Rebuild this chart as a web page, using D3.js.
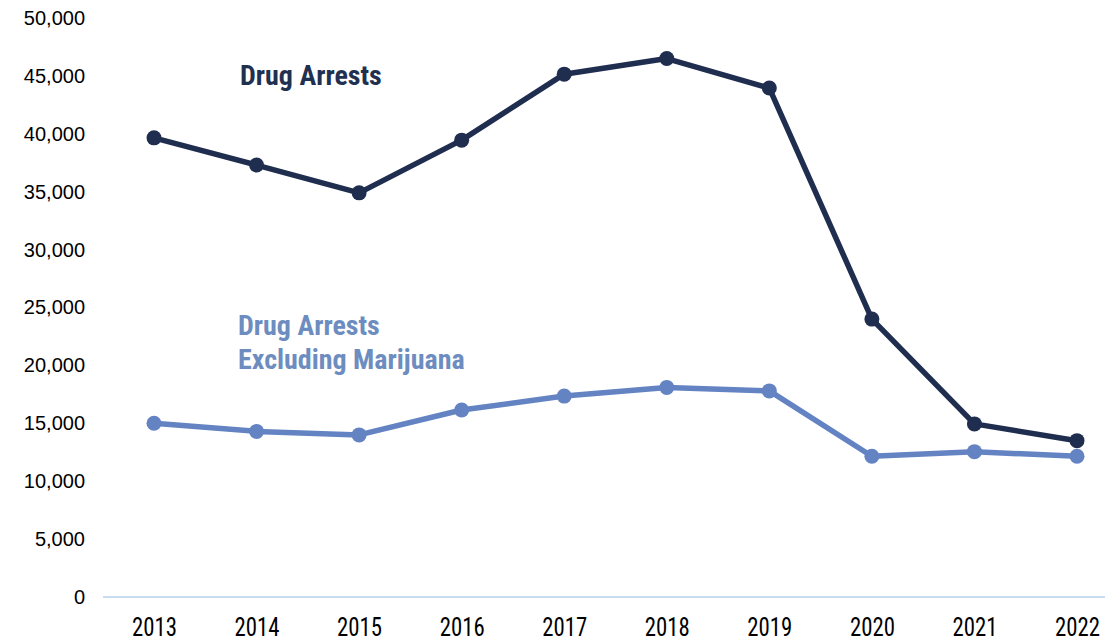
<!DOCTYPE html>
<html>
<head>
<meta charset="utf-8">
<script src="https://cdn.jsdelivr.net/npm/d3@7"></script>
<style>
  body { margin: 0; background: #fff; }
  svg { display: block; }
</style>
</head>
<body>
<div id="chart"></div>
<script>
const w = 1105;
const h = 642;

const years = ["2013", "2014", "2015", "2016", "2017", "2018", "2019", "2020", "2021", "2022"];
const drugArrests = [39650, 37300, 34900, 39450, 45150, 46500, 43950, 24000, 14950, 13500];
const excludingMarijuana = [15000, 14300, 14000, 16150, 17350, 18100, 17800, 12150, 12550, 12150];
const yTicks = [0, 5000, 10000, 15000, 20000, 25000, 30000, 35000, 40000, 45000, 50000];

const darkColor = "#1f2d4f";
const lightColor = "#6383c3";
const condensed = "'Roboto Condensed', 'Liberation Sans Narrow', 'Arial Narrow', sans-serif";

const svg = d3.select("#chart").append("svg").attr("width", w).attr("height", h);

const x = d3.scalePoint().domain(years).range([154, 1077]);
const y = d3.scaleLinear().domain([0, 50000]).range([597, 18]);

// y axis labels, no line
const yAxis = d3.axisLeft(y).tickValues(yTicks).tickSize(0).tickPadding(0)
    .tickFormat(d3.format(","));
const gy = svg.append("g").attr("transform", "translate(85,0)").call(yAxis);
gy.select(".domain").remove();
gy.selectAll("text")
    .style("font-family", "'Liberation Sans', Arial, sans-serif")
    .style("font-size", "20px")
    .attr("fill", "#000");

// baseline
svg.append("line")
    .attr("x1", 103).attr("x2", w)
    .attr("y1", y(0)).attr("y2", y(0))
    .attr("stroke", "#c9dcf0").attr("stroke-width", 2);

// x labels
const xAxis = d3.axisBottom(x).tickSize(0).tickPadding(0);
const gx = svg.append("g").attr("transform", "translate(0,618)").call(xAxis);
gx.select(".domain").remove();
gx.selectAll("text")
    .style("font-family", condensed)
    .style("font-size", "26px")
    .attr("textLength", 45)
    .attr("lengthAdjust", "spacingAndGlyphs")
    .attr("fill", "#000");

const line = d3.line().x((d, i) => x(years[i])).y(d => y(d));

function drawSeries(values, color) {
    svg.append("path")
        .datum(values)
        .attr("d", line)
        .attr("fill", "none")
        .attr("stroke", color)
        .attr("stroke-width", 5.5)
        .attr("stroke-linejoin", "round");
    svg.append("g").selectAll("circle")
        .data(values)
        .enter()
        .append("circle")
        .attr("cx", (d, i) => x(years[i]))
        .attr("cy", d => y(d))
        .attr("r", 7.5)
        .attr("fill", color);
}

drawSeries(excludingMarijuana, lightColor);
drawSeries(drugArrests, darkColor);

// annotations
svg.append("text")
    .attr("x", 240).attr("y", 85)
    .style("font-family", condensed)
    .style("font-size", "28px").style("font-weight", "bold")
    .attr("fill", "#1f3050")
    .text("Drug Arrests");

const lt = svg.append("text")
    .style("font-family", condensed)
    .style("font-size", "28px").style("font-weight", "bold")
    .attr("fill", "#6d8dc0");
lt.append("tspan").attr("x", 238).attr("y", 335).text("Drug Arrests");
lt.append("tspan").attr("x", 238).attr("y", 369).text("Excluding Marijuana");
</script>
</body>
</html>
